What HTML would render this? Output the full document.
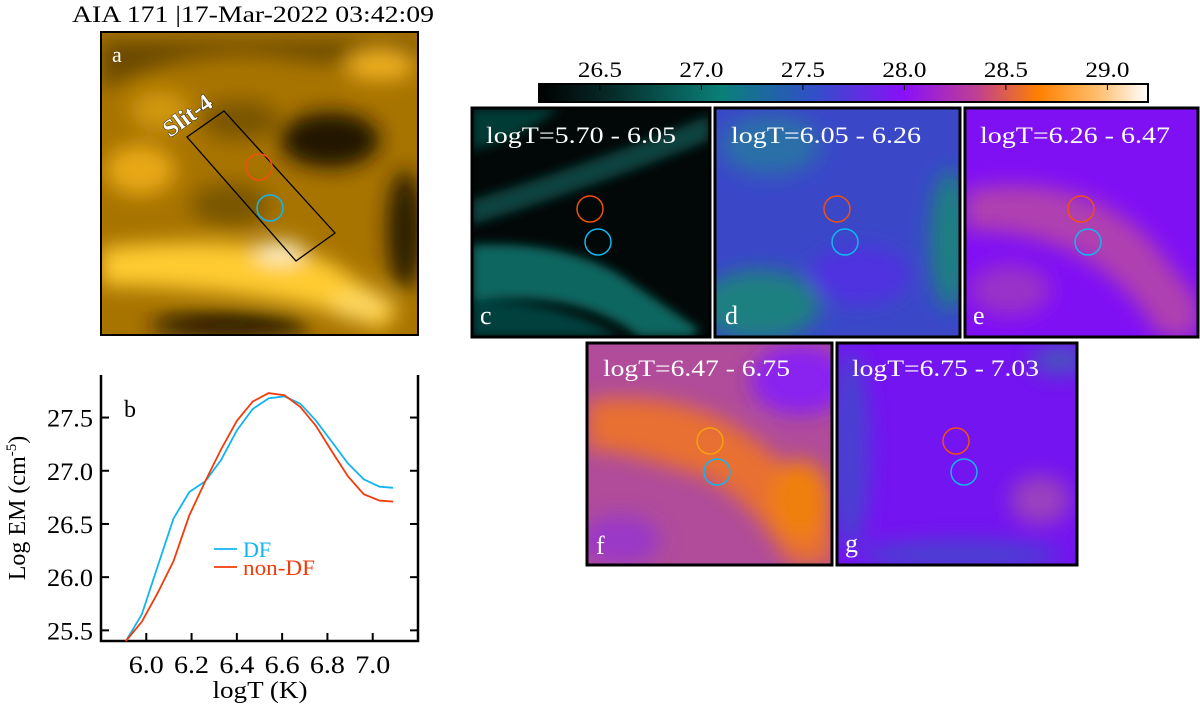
<!DOCTYPE html>
<html><head><meta charset="utf-8">
<style>
html,body{margin:0;padding:0;background:#fff;}
svg{display:block;font-family:"Liberation Serif",serif;}
</style></head>
<body>
<svg id="fig" width="1200" height="710" viewBox="0 0 1200 710" xmlns="http://www.w3.org/2000/svg">
<defs>
  <filter id="bl" x="-30%" y="-30%" width="160%" height="160%"><feGaussianBlur stdDeviation="10"/></filter>
  <filter id="bl2" x="-30%" y="-30%" width="160%" height="160%"><feGaussianBlur stdDeviation="5"/></filter>
  <linearGradient id="cmap" x1="0" x2="1" y1="0" y2="0">
    <stop offset="0" stop-color="#000"/>
    <stop offset="0.12" stop-color="#062c2a"/>
    <stop offset="0.3" stop-color="#0a8078"/>
    <stop offset="0.45" stop-color="#3050c8"/>
    <stop offset="0.6" stop-color="#8a10f8"/>
    <stop offset="0.72" stop-color="#c04090"/>
    <stop offset="0.82" stop-color="#ff8000"/>
    <stop offset="0.92" stop-color="#ffc070"/>
    <stop offset="1" stop-color="#fff"/>
  </linearGradient>
  <clipPath id="ca"><rect x="101" y="32" width="317" height="303"/></clipPath>
  <clipPath id="cc"><rect x="472" y="108" width="238" height="229"/></clipPath>
  <clipPath id="cd"><rect x="715" y="108" width="245" height="229"/></clipPath>
  <clipPath id="ce"><rect x="965" y="108" width="233" height="229"/></clipPath>
  <clipPath id="cf"><rect x="587" y="343" width="245" height="222"/></clipPath>
  <clipPath id="cg"><rect x="837" y="343" width="240" height="222"/></clipPath>
</defs>

<text x="72" y="22" font-size="23" textLength="362" lengthAdjust="spacingAndGlyphs">AIA 171 |17-Mar-2022 03:42:09</text>

<!-- Panel a -->
<g clip-path="url(#ca)">
  <rect x="101" y="32" width="317" height="303" fill="#a87400"/>
  <g filter="url(#bl)">
    <path d="M101 90 Q200 40 300 60 L418 70 L418 40 L101 40 Z" fill="#6a4800"/>
    <ellipse cx="330" cy="140" rx="50" ry="28" fill="#241600"/>
    <ellipse cx="405" cy="230" rx="18" ry="60" fill="#2a1c00"/>
    <ellipse cx="240" cy="120" rx="40" ry="20" fill="#7a5400"/>
    <ellipse cx="230" cy="325" rx="80" ry="14" fill="#2a1c00"/>
    <ellipse cx="140" cy="170" rx="35" ry="25" fill="#e8a818"/>
    <ellipse cx="160" cy="110" rx="30" ry="20" fill="#d09810"/>
    <path d="M101 248 Q250 232 330 262 L400 310 L380 330 Q300 290 101 285 Z" fill="#ffcc30"/>
    <ellipse cx="280" cy="252" rx="25" ry="10" fill="#fff4d0"/>
    <ellipse cx="380" cy="65" rx="35" ry="15" fill="#f0b020"/>
    <ellipse cx="230" cy="205" rx="40" ry="22" fill="#7a5600"/>
    <ellipse cx="360" cy="305" rx="30" ry="15" fill="#ffd860"/>
  </g>
</g>
<rect x="101" y="32" width="317" height="303" fill="none" stroke="#000" stroke-width="2"/>
<text x="112" y="62" font-size="22" fill="#fff">a</text>
<polygon points="187,137 224,111 335,233 296,261" fill="none" stroke="#000" stroke-width="1.3"/>
<text x="0" y="0" font-size="24" font-weight="bold" fill="#fff" stroke="#000" stroke-width="0.8" paint-order="stroke" transform="translate(170,138) rotate(-36)">Slit-4</text>
<circle cx="259" cy="167" r="13" fill="none" stroke="#f05010" stroke-width="1.5"/>
<circle cx="270" cy="208" r="13" fill="none" stroke="#10b8f0" stroke-width="1.5"/>

<!-- Colorbar -->
<rect x="539" y="84" width="609" height="18" fill="url(#cmap)" stroke="#000" stroke-width="2"/>
<g id="cbticks" font-size="22" text-anchor="middle"></g>

<!-- Panel c -->
<g clip-path="url(#cc)">
  <rect x="472" y="108" width="238" height="229" fill="#020807"/>
  <g filter="url(#bl2)">
    <path d="M472 245 Q560 240 620 275 L700 330 L690 337 L640 337 Q580 290 472 300 Z" fill="#0a6660"/>
    <path d="M472 300 Q560 300 620 337 L472 337 Z" fill="#06403c"/>
    <path d="M472 200 Q600 160 710 115 L710 140 Q600 185 472 225 Z" fill="#08433f"/>
    <path d="M472 108 L560 108 Q520 140 472 150 Z" fill="#063a36"/>
  </g>
</g>
<rect x="472" y="108" width="238" height="229" fill="none" stroke="#000" stroke-width="3"/>
<!-- Panel d -->
<g clip-path="url(#cd)">
  <rect x="715" y="108" width="245" height="229" fill="#3a48c8"/>
  <g filter="url(#bl)">
    <ellipse cx="760" cy="305" rx="60" ry="35" fill="#1a8080"/>
    <ellipse cx="950" cy="240" rx="20" ry="70" fill="#1a8080"/>
    <ellipse cx="770" cy="145" rx="50" ry="30" fill="#2a70a8"/>
    <ellipse cx="860" cy="275" rx="50" ry="30" fill="#5030e0"/>
  </g>
</g>
<rect x="715" y="108" width="245" height="229" fill="none" stroke="#000" stroke-width="3"/>
<!-- Panel e -->
<g clip-path="url(#ce)">
  <rect x="965" y="108" width="233" height="229" fill="#8010f4"/>
  <g filter="url(#bl)">
    <path d="M965 190 Q1080 170 1150 240 L1198 300 L1198 337 L1160 337 Q1100 230 965 230 Z" fill="#b040b0"/>
    <ellipse cx="1010" cy="290" rx="40" ry="25" fill="#9a30c8"/>
  </g>
</g>
<rect x="965" y="108" width="233" height="229" fill="none" stroke="#000" stroke-width="3"/>
<!-- Panel f -->
<g clip-path="url(#cf)">
  <rect x="587" y="343" width="245" height="222" fill="#b04c9a"/>
  <g filter="url(#bl)">
    <path d="M587 400 Q680 390 740 430 Q800 470 832 520 L832 565 L790 565 Q740 480 680 470 Q620 450 587 450 Z" fill="#e87030"/>
    <ellipse cx="800" cy="380" rx="50" ry="35" fill="#8a20f0"/>
    <ellipse cx="620" cy="540" rx="40" ry="25" fill="#9a38c8"/>
    <ellipse cx="800" cy="500" rx="30" ry="40" fill="#f08010"/>
  </g>
</g>
<rect x="587" y="343" width="245" height="222" fill="none" stroke="#000" stroke-width="3"/>
<!-- Panel g -->
<g clip-path="url(#cg)">
  <rect x="837" y="343" width="240" height="222" fill="#7414f0"/>
  <g filter="url(#bl)">
    <ellipse cx="850" cy="450" rx="20" ry="100" fill="#4a40d0"/>
    <ellipse cx="1040" cy="500" rx="30" ry="25" fill="#9a40c0"/>
    <ellipse cx="960" cy="555" rx="100" ry="15" fill="#4a40d0"/>
    <ellipse cx="1060" cy="360" rx="30" ry="15" fill="#4a50c0"/>
  </g>
</g>
<rect x="837" y="343" width="240" height="222" fill="none" stroke="#000" stroke-width="3"/>

<g font-size="23" fill="#fff">
  <text x="486" y="143" textLength="190" lengthAdjust="spacingAndGlyphs">logT=5.70 - 6.05</text>
  <text x="731" y="143" textLength="190" lengthAdjust="spacingAndGlyphs">logT=6.05 - 6.26</text>
  <text x="980" y="143" textLength="190" lengthAdjust="spacingAndGlyphs">logT=6.26 - 6.47</text>
  <text x="603" y="376" textLength="187" lengthAdjust="spacingAndGlyphs">logT=6.47 - 6.75</text>
  <text x="852" y="376" textLength="187" lengthAdjust="spacingAndGlyphs">logT=6.75 - 7.03</text>
  <text x="480" y="324" font-size="26">c</text>
  <text x="725" y="324" font-size="26">d</text>
  <text x="973" y="324" font-size="26">e</text>
  <text x="596" y="554" font-size="26">f</text>
  <text x="845" y="552" font-size="26">g</text>
</g>
<g fill="none" stroke-width="1.5">
  <ellipse cx="590" cy="209" rx="13" ry="13" stroke="#f05010"/>
  <ellipse cx="598" cy="242" rx="13" ry="13" stroke="#10b8f0"/>
  <ellipse cx="837" cy="209" rx="13" ry="13" stroke="#f05010"/>
  <ellipse cx="845" cy="242" rx="13" ry="13" stroke="#10b8f0"/>
  <ellipse cx="1081" cy="209" rx="13" ry="13" stroke="#f05010"/>
  <ellipse cx="1088" cy="242" rx="13" ry="13" stroke="#10b8f0"/>
  <ellipse cx="710" cy="441" rx="13" ry="13" stroke="#f8a010"/>
  <ellipse cx="717" cy="472" rx="13" ry="13" stroke="#10b8f0"/>
  <ellipse cx="956" cy="441" rx="13" ry="13" stroke="#f05010"/>
  <ellipse cx="964" cy="472" rx="13" ry="13" stroke="#10b8f0"/>
</g>

<!-- Panel b -->
<g id="plotb"></g>
</svg>
<script>
const cbTicks = [26.5, 27.0, 27.5, 28.0, 28.5, 29.0];
const xTicks = [6.0, 6.2, 6.4, 6.6, 6.8, 7.0];
const yTicks = [25.5, 26.0, 26.5, 27.0, 27.5];
const logT = [5.91,5.98,6.05,6.12,6.19,6.26,6.33,6.40,6.47,6.54,6.61,6.68,6.75,6.82,6.89,6.96,7.03,7.09];
const emDF = [25.40,25.65,26.10,26.55,26.80,26.90,27.10,27.38,27.58,27.68,27.70,27.63,27.47,27.27,27.07,26.92,26.85,26.84];
const emNonDF = [25.40,25.58,25.85,26.15,26.58,26.90,27.20,27.47,27.65,27.73,27.71,27.60,27.42,27.18,26.95,26.78,26.72,26.71];

const NS = 'http://www.w3.org/2000/svg';
function mk(tag, attrs, parent){ const e=document.createElementNS(NS,tag); for(const k in attrs) e.setAttribute(k,attrs[k]); parent.appendChild(e); return e; }

// colorbar
const cbX = v => 539 + (v - 26.2) / 3.0 * 609;
const cbg = document.getElementById('cbticks');
cbTicks.forEach(v => {
  const t = mk('text', {x: cbX(v), y: 77, textLength: 44, lengthAdjust: 'spacingAndGlyphs'}, cbg);
  
  
  t.textContent = v.toFixed(1);
  const l = mk('line', {x1: cbX(v), x2: cbX(v), y1: 85, y2: 90, stroke: '#000', 'stroke-width': 1}, cbg);
  
  
});

// panel b
const L=101, R=418, T=375, B=641;
const xS = v => L + (v - 5.8) / 1.4 * (R - L);
const yS = v => B - (v - 25.4) / 2.5 * (B - T);
const g = document.getElementById('plotb');
const ax = mk('path', {d:`M${L} ${T} L${L} ${B} L${R} ${B} L${R} ${T}`, fill:'none', stroke:'#000', 'stroke-width':2.5}, g);


xTicks.forEach(v => {
  const l = mk('line', {x1:xS(v), x2:xS(v), y1:B, y2:B-8, stroke:'#000', 'stroke-width':2}, g);
  
  
  const t = mk('text', {x:xS(v), y:B+32, 'font-size':25, 'text-anchor':'middle', textLength:35, lengthAdjust:'spacingAndGlyphs'}, g);
  
  
  t.textContent = v.toFixed(1);
});
yTicks.forEach(v => {
  [[L, L+8],[R, R-8]].forEach(p => {
    const l = mk('line', {x1:p[0], x2:p[1], y1:yS(v), y2:yS(v), stroke:'#000', 'stroke-width':2}, g);
    
    
  });
  const t = mk('text', {x:L-8, y:yS(v)+9, 'font-size':25, 'text-anchor':'end', textLength:46, lengthAdjust:'spacingAndGlyphs'}, g);
  
  
  t.textContent = v.toFixed(1);
});
const xl = mk('text', {x:260, y:698, 'font-size':24, 'text-anchor':'middle', textLength:95, lengthAdjust:'spacingAndGlyphs'}, g);


xl.textContent = 'logT (K)';
const yl = mk('text', {x:0, y:0, 'font-size':24, 'text-anchor':'middle', transform:'translate(25,508) rotate(-90)'}, g);


yl.innerHTML = 'Log EM (cm<tspan dy="-9" font-size="15">-5</tspan><tspan dy="9">)</tspan>';
const bl = mk('text', {x:124, y:417, 'font-size':24}, g);


bl.textContent = 'b';
function series(vals, color, name){
  const d = logT.map((x,i)=>(i?'L':'M')+xS(x).toFixed(1)+' '+yS(vals[i]).toFixed(1)).join(' ');
  const p = mk('path', {d, fill:'none', stroke:color, 'stroke-width':1.8}, g);
  
  
}
series(emDF, '#10b4f0', 'df-line');
series(emNonDF, '#f03c0a', 'non-df-line');
const l1 = mk('line', {x1:214, x2:237, y1:549, y2:549, stroke:'#10b4f0', 'stroke-width':1.8}, g);


const t1 = mk('text', {x:243, y:557, 'font-size':22, fill:'#10b4f0'}, g);


t1.textContent = 'DF';
const l2 = mk('line', {x1:214, x2:237, y1:567, y2:567, stroke:'#f03c0a', 'stroke-width':1.8}, g);


const t2 = mk('text', {x:243, y:575, 'font-size':22, fill:'#f03c0a', textLength:72, lengthAdjust:'spacingAndGlyphs'}, g);


t2.textContent = 'non-DF';
</script>
</body></html>
